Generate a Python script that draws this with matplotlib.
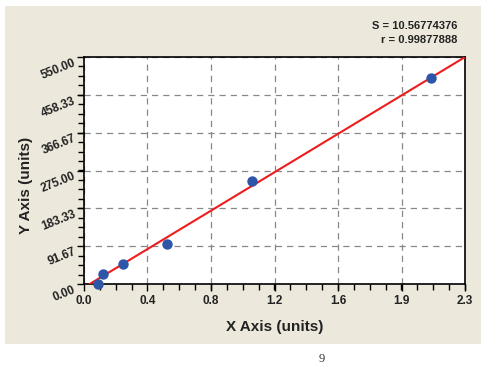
import matplotlib
matplotlib.use("Agg")
import matplotlib.pyplot as plt
import numpy as np
from matplotlib.patches import Rectangle
from matplotlib.ticker import AutoMinorLocator

plt.rcParams['font.family'] = ['Liberation Sans', 'DejaVu Sans']

# Data
x_vals = [0.087, 0.114, 0.237, 0.506, 1.03, 2.12]
y_vals = [0.0, 24.0, 48.0, 97.0, 250.0, 500.0]
fit_slope = 239.6
fit_intercept = -8.4
fit_x_range = [0.035, 2.33]
x_ticks = [0.0, 0.3883, 0.7767, 1.165, 1.5533, 1.9417, 2.33]
x_tick_labels = ["0.0", "0.4", "0.8", "1.2", "1.6", "1.9", "2.3"]
y_ticks = [0.0, 91.67, 183.33, 275.0, 366.67, 458.33, 550.0]
y_tick_labels = ["0.00", "91.67", "183.33", "275.00", "366.67", "458.33", "550.00"]
stats_text = "S = 10.56774376\nr = 0.99877888"
page_number = "9"

W, H = 495, 383
fig = plt.figure(figsize=(W / 100, H / 100), dpi=100, facecolor="white")

# beige panel
fig.patches.append(Rectangle((5 / W, 1 - 344 / H), 476 / W, 338 / H,
                             transform=fig.transFigure, facecolor="#ECE9DC",
                             edgecolor="none", zorder=-5))

ax = fig.add_axes([84 / W, 1 - 284 / H, 381 / W, 227 / H])
ax.set_zorder(2)
ax.set_facecolor("white")
ax.set_xlim(0, 2.33)
ax.set_ylim(0, 550)

ax.set_xticks(x_ticks)
ax.set_xticklabels(x_tick_labels, fontsize=8.5, fontweight="bold", color="#222222")
ax.set_yticks(y_ticks)
ax.set_yticklabels(y_tick_labels, fontsize=8.5, fontweight="bold", color="#222222",
                   rotation=22, rotation_mode="anchor", ha="right", va="top")
ax.xaxis.set_minor_locator(AutoMinorLocator(4))
ax.yaxis.set_minor_locator(AutoMinorLocator(4))
ax.tick_params(which="major", direction="out", length=5, width=1, colors="black", pad=3)
ax.tick_params(which="minor", direction="out", length=4, width=1, colors="black")
ax.tick_params(axis="x", labelcolor="#222222")
ax.tick_params(axis="y", labelcolor="#222222", pad=3)
ax.grid(True, which="major", linestyle=(0, (5, 4)), color="#888888", linewidth=0.9)
for s in ax.spines.values():
    s.set_color("black")
    s.set_linewidth(1.2)

# fit line
fx = np.array(fit_x_range)
ax.plot(fx, fit_slope * fx + fit_intercept, color="#EE1C1C", linewidth=1.5,
        zorder=3, clip_on=True)
# points
ax.plot(x_vals, y_vals, "o", color="#2E56A8", markersize=7.5, markeredgewidth=0,
        zorder=4, clip_on=False)

fig.text(457 / W, 1 - 33 / H, stats_text, ha="right", va="center", fontsize=8,
         fontweight="bold", color="#222222", linespacing=1.45)
fig.text(275 / W, 1 - 327 / H, "X Axis (units)", ha="center", va="center",
         fontsize=11, fontweight="bold", color="#222222")
fig.text(26 / W, 1 - 185 / H, "Y Axis (units)", ha="center", va="center",
         rotation=90, fontsize=11, fontweight="bold", color="#222222")
fig.text(322 / W, 1 - 359 / H, page_number, ha="center", va="center", fontsize=9,
         family="Liberation Serif", color="#333333")

fig.savefig("out.png", dpi=100, facecolor="white")
